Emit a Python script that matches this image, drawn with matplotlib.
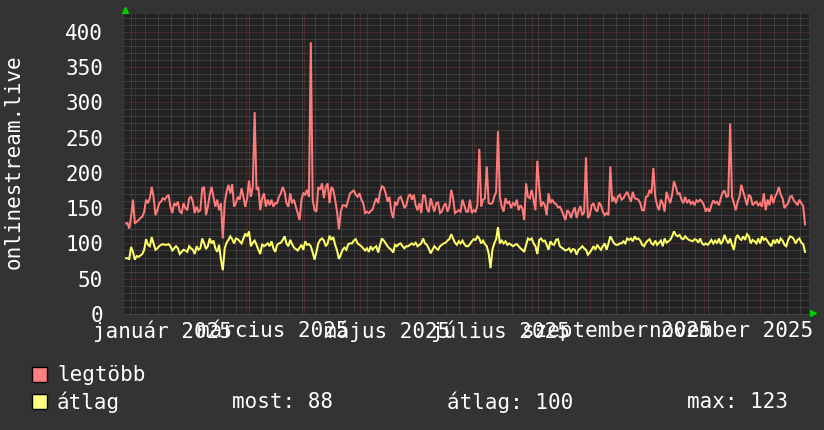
import matplotlib
matplotlib.use('Agg')
import matplotlib.pyplot as plt
from matplotlib.patches import Rectangle
import pandas as pd

W, H = 824, 430
BG = '#333333'
PLOT_BG = '#222222'
RED = '#ff7b7b'
YELLOW = '#ffff6a'

# daily values, first day 2024-12-27
START = '2024-12-27 11:00'
LEGTOBB = [
    128, 129, 121, 138, 162, 128, 131, 133, 136, 138,
    145, 162, 157, 164, 180, 166, 140, 147, 157, 159,
    164, 162, 166, 169, 152, 143, 157, 154, 159, 145,
    143, 157, 150, 147, 164, 166, 159, 143, 152, 145,
    147, 178, 180, 140, 152, 169, 180, 166, 152, 162,
    147, 157, 107, 157, 173, 183, 171, 184, 152,
    157, 166, 162, 178, 166, 152, 164, 189, 166, 180,
    286, 176, 180, 147, 164, 171, 152, 162, 154, 162,
    152, 157, 157, 166, 171, 180, 173, 157, 152, 171,
    157, 162, 152, 143, 133, 162, 171, 169, 176, 166,
    385, 162, 147, 145, 180, 176, 185, 164, 180, 185,
    157, 180, 176, 162, 145, 120, 145, 154, 154, 152, 162, 171,
    173, 175, 169, 166, 171, 162, 157, 143, 145, 143,
    146, 148, 157, 164, 157, 173, 181, 179, 171, 159,
    166, 145, 136, 159, 154, 164, 166, 159, 150, 154,
    166, 170, 162, 169, 154, 147, 157, 143, 169, 167,
    150, 144, 164, 154, 145, 157, 158, 143, 145, 153,
    157, 145, 152, 176, 164, 143, 145, 147, 145, 162, 154, 145,
    145, 162, 143, 147, 145, 154, 234, 152, 162, 164,
    209, 157, 156, 157, 166, 173, 259, 166, 152, 145,
    164, 157, 159, 150, 157, 154, 162, 147, 154, 150,
    133, 185, 166, 164, 176, 162, 147, 217, 180, 152,
    159, 154, 140, 171, 157, 162, 157, 156, 151, 152,
    147, 140, 133, 147, 144, 136, 145, 151, 136, 146, 153, 140,
    144, 222, 136, 140, 154, 157, 148, 145, 158, 154,
    145, 140, 143, 140, 209, 159, 166, 157, 166, 169,
    162, 164, 169, 173, 166, 159, 173, 164, 163, 162,
    157, 147, 147, 166, 167, 176, 171, 207, 166, 154,
    147, 162, 157, 145, 173, 164, 157, 169, 188, 180,
    170, 171, 162, 157, 166, 157, 162, 156, 159, 154, 161, 159,
    162, 159, 154, 145, 150, 145, 154, 161, 157, 159,
    154, 164, 172, 175, 166, 167, 270, 166, 157, 147,
    159, 166, 183, 173, 164, 154, 169, 166, 154, 157,
    159, 154, 157, 152, 171, 147, 162, 154, 169, 157,
    166, 171, 180, 169, 164, 150, 154, 157, 166, 167,
    161, 158, 154, 162, 157, 153, 127,
]
ATLAG = [
    79, 79, 78, 95, 88, 77, 82, 81, 83, 85,
    91, 106, 98, 96, 109, 100, 91, 93, 96, 98,
    99, 98, 98, 99, 96, 90, 93, 96, 93, 85,
    88, 91, 90, 88, 96, 93, 91, 85, 96, 91,
    93, 107, 100, 92, 96, 107, 100, 104, 93, 88,
    98, 77, 62, 93, 101, 105, 110, 106, 100,
    107, 106, 103, 100, 107, 114, 110, 117, 96, 101,
    104, 98, 91, 85, 99, 96, 98, 100, 96, 103,
    93, 88, 98, 100, 101, 105, 110, 100, 96, 105,
    99, 94, 92, 90, 94, 98, 91, 103, 98, 99,
    96, 87, 77, 88, 100, 105, 107, 104, 96, 100,
    111, 105, 109, 98, 90, 78, 84, 91, 94, 91, 99, 100,
    100, 104, 106, 100, 98, 96, 93, 90, 93, 88,
    96, 91, 94, 96, 87, 98, 107, 104, 100, 96,
    93, 91, 87, 98, 96, 99, 100, 96, 93, 96,
    96, 98, 100, 98, 101, 96, 98, 100, 107, 100,
    98, 93, 86, 91, 96, 93, 91, 96, 98, 100,
    101, 104, 106, 113, 107, 101, 98, 103, 100, 104, 99, 96,
    96, 99, 103, 106, 105, 110, 107, 100, 104, 99,
    96, 86, 65, 91, 100, 106, 123, 100, 104, 100,
    103, 98, 100, 98, 96, 98, 99, 96, 93, 91,
    88, 98, 107, 105, 107, 100, 96, 85, 105, 107,
    103, 104, 98, 91, 103, 99, 98, 105, 106, 96,
    94, 92, 90, 91, 93, 88, 92, 91, 84, 91, 93, 96,
    93, 91, 84, 87, 91, 96, 91, 98, 94, 91,
    96, 100, 91, 100, 110, 105, 100, 98, 98, 100,
    100, 103, 100, 107, 105, 107, 103, 110, 106, 107,
    104, 98, 96, 101, 104, 106, 100, 98, 104, 98,
    101, 104, 96, 107, 101, 103, 105, 110, 117, 112,
    110, 112, 107, 106, 110, 107, 105, 104, 103, 106, 105, 101,
    107, 100, 98, 100, 98, 101, 105, 100, 104, 100,
    107, 99, 103, 112, 105, 100, 107, 98, 91, 107,
    112, 107, 105, 110, 105, 113, 110, 100, 105, 103,
    100, 107, 100, 110, 105, 107, 103, 99, 96, 105,
    100, 106, 100, 107, 104, 98, 96, 105, 110, 109,
    106, 100, 105, 107, 101, 99, 88,
]

MONTH_LABELS = ['január 2025', 'március 2025', 'május 2025',
                'július 2025', 'szeptember 2025', 'november 2025']
LABEL_DATES = ['2025-01-16', '2025-03-16', '2025-05-16',
               '2025-07-16', '2025-09-16', '2025-11-16']
YTICKS = [0, 50, 100, 150, 200, 250, 300, 350, 400]
X_FROM, X_TO = '2024-12-26 16:00', '2025-12-27 14:00'
Y_MAX = 425

plt.rcParams['font.family'] = 'DejaVu Sans Mono'
plt.rcParams['font.size'] = 15


def fx(px):
    return px / W


def fy(py):
    return 1 - py / H


days = pd.date_range(START, periods=len(LEGTOBB), freq='D')
x0, x1 = pd.Timestamp(X_FROM), pd.Timestamp(X_TO)

fig = plt.figure(figsize=(W / 100, H / 100), dpi=100, facecolor=BG)
ax = fig.add_axes([fx(124), fy(314), fx(685), 300 / H], facecolor=PLOT_BG)
ax.set_xlim(x0, x1)
ax.set_ylim(0, Y_MAX)

# grid: weekly / 10 units gray, monthly / 50 units red, dotted
dots = (0, (1, 1))
GRID_MINOR = '#555555'
GRID_MAJOR = '#6a3535'
mondays = [d for d in pd.date_range(x0, x1, freq='W-MON') if d.day != 1]
month_starts = pd.date_range(x0, x1, freq='MS')
minor_y = [v for v in range(10, Y_MAX, 10) if v % 50]
major_y = [v for v in range(50, Y_MAX, 50)]
grid_kw = dict(linestyles=dots, lw=0.72, clip_on=False)
ax.vlines(mondays, 0, Y_MAX + 3, colors=GRID_MINOR, **grid_kw)
ax.vlines(month_starts, 0, Y_MAX + 3, colors=GRID_MAJOR, **grid_kw)
ax.hlines(minor_y, x0 - pd.Timedelta(days=1), x1, colors=GRID_MINOR, **grid_kw)
ax.hlines(major_y, x0 - pd.Timedelta(days=1), x1, colors=GRID_MAJOR, **grid_kw)

ax.plot(days, LEGTOBB, color=RED, lw=1.45, solid_joinstyle='miter')
ax.plot(days, ATLAG, color=YELLOW, lw=1.45, solid_joinstyle='miter')

for s in ax.spines.values():
    s.set_visible(False)
ax.spines['bottom'].set_visible(True)
ax.spines['bottom'].set_color('#444444')
ax.spines['left'].set_visible(True)
ax.spines['left'].set_color('#2c2c2c')

ax.set_yticks(YTICKS)
ax.set_yticklabels([str(v) for v in YTICKS])
ax.set_xticks(pd.to_datetime(LABEL_DATES))
ax.set_xticklabels(MONTH_LABELS)
ax.tick_params(axis='y', length=0, pad=15, colors='white', labelsize=15)
ax.tick_params(axis='x', length=0, pad=5, colors='white', labelsize=15)

# green arrows at the axis ends
ax.plot([0.001], [1.012], marker='^', ms=4, color='#00cc00', mec='#00cc00',
        transform=ax.transAxes, clip_on=False)
ax.plot([1.006], [0.004], marker='>', ms=4, color='#00cc00', mec='#00cc00',
        transform=ax.transAxes, clip_on=False)

fig.text(fx(14), fy(162), 'onlinestream.live', rotation=90, ha='center', va='center',
         color='white', fontsize=15)

# legend
fig.add_artist(Rectangle((fx(32), fy(382)), 15 / W, 15 / H, facecolor='#ff8080',
                         edgecolor='black', lw=1, transform=fig.transFigure))
fig.add_artist(Rectangle((fx(32), fy(409)), 15 / W, 15 / H, facecolor='#ffff80',
                         edgecolor='black', lw=1, transform=fig.transFigure))
fig.text(fx(57), fy(375), 'legtöbb', va='center', ha='left', color='white')
fig.text(fx(57), fy(402), 'átlag', va='center', ha='left', color='white')
fig.text(fx(232), fy(402), 'most: 88', va='center', ha='left', color='white')
fig.text(fx(447), fy(402), 'átlag: 100', va='center', ha='left', color='white')
fig.text(fx(687), fy(402), 'max: 123', va='center', ha='left', color='white')

fig.savefig('out.png', dpi=100, facecolor=fig.get_facecolor())
